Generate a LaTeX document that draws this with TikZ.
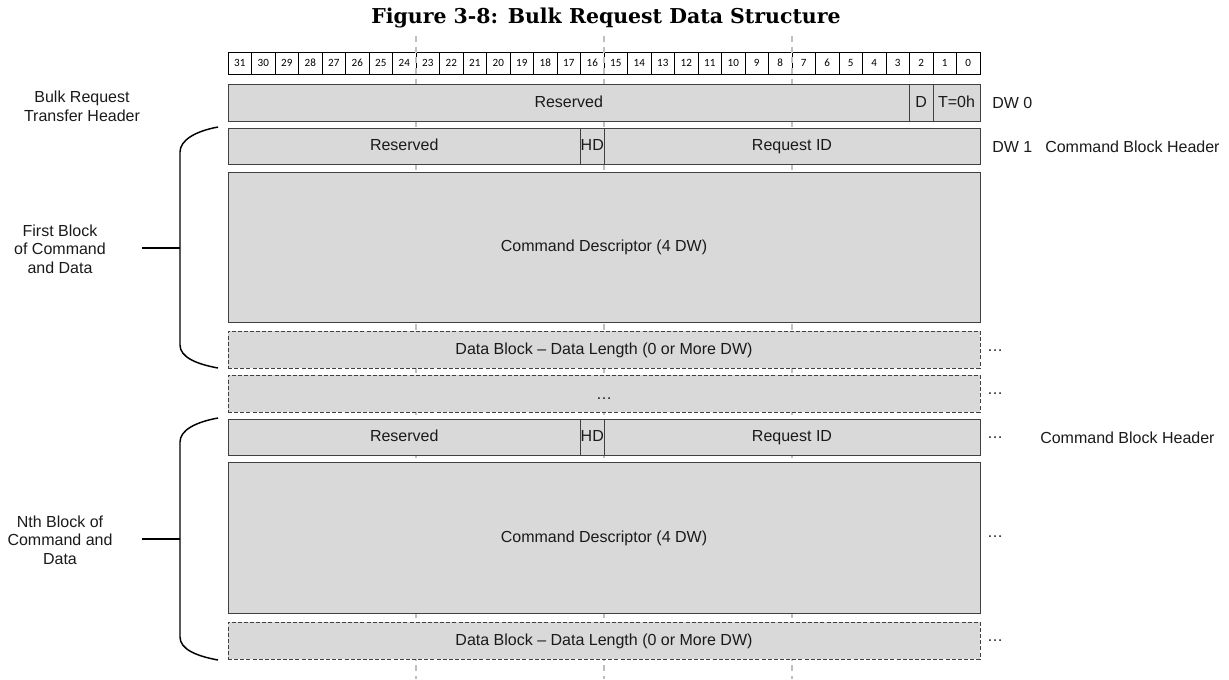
\documentclass[tikz,border=0pt]{standalone}
\usepackage{fontspec}
\setmainfont{Liberation Sans}
\newfontfamily\bitfont{Carlito}
\newfontfamily\titlefont{DejaVu Serif}
\definecolor{boxfill}{HTML}{D9D9D9}
\definecolor{boxline}{HTML}{404040}
\definecolor{guide}{HTML}{BFBFBF}
\definecolor{txt}{HTML}{1A1A1A}
\newcommand\fieldbox[7][field]{%
  \node[#1, minimum width={(#5-#3)*0.75pt}, minimum height={(#6-#4)*0.75pt}] (#2) at ({(#3+#5)/2},{(#4+#6)/2}) {#7};}
\begin{document}
\begin{tikzpicture}[x=0.75pt,y=-0.75pt,
  field/.style={draw=boxline, fill=boxfill, line width=0.75pt, inner sep=0pt, outer sep=0pt,
    font=\fontsize{12}{14}\selectfont, text=txt, text height=0.72em, text depth=0pt},
  optfield/.style={field, dash pattern=on 3pt off 1.6pt},
  bitcell/.style={draw=black, fill=white, line width=0.6pt, inner sep=0pt, outer sep=0pt,
    minimum width=17.625pt, minimum height=16.5pt, font=\bitfont\fontsize{8.3}{9}\selectfont},
  guideline/.style={draw=guide, line width=1.5pt, dash pattern=on 4.5pt off 3.5pt},
  lbl/.style={font=\fontsize{12}{14}\selectfont, align=center, inner sep=0pt, text=txt},
  brace/.style={draw=black, line width=1.1pt}]
\useasboundingbox (0,0) rectangle (1229,679);

% title
\node[inner sep=0pt] (title) at (606,18) {\resizebox{352pt}{!}{\titlefont\bfseries Figure 3-8: Bulk Request Data Structure}};

% bit numbers
\foreach \k in {0,...,31} {
  \pgfmathtruncatemacro\n{31-\k}
  \node[bitcell] (b\n) at ({239.75+23.5*\k},63) {\n};
}

% guide lines
\foreach \gx/\gn in {416/g1, 604/g2, 792/g3} {
  \coordinate (\gn t) at (\gx,36);
  \coordinate (\gn b) at (\gx,679);
  \draw[guideline] (\gn t) -- (\gn b);
}

% DW 0
\fieldbox{res0}{228}{84}{909.5}{121}{Reserved}
\fieldbox{dbit}{909.5}{84}{933}{121}{D}
\fieldbox{tbit}{933}{84}{980}{121}{T=0h}
% DW 1
\fieldbox{res1}{228}{128}{580.5}{164}{Reserved}
\fieldbox{hd1}{580.5}{128}{604}{164}{HD}
\fieldbox{rid1}{604}{128}{980}{164}{Request ID}
\fieldbox{cmd1}{228}{172}{980}{322}{Command Descriptor (4 DW)}
\fieldbox[optfield]{data1}{228}{331}{980}{368}{Data Block – Data Length (0 or More DW)}
\fieldbox[optfield,text height=1.6ex,text depth=0pt]{gap}{228}{375}{980}{412}{…}
% Nth block
\fieldbox{res2}{228}{419}{580.5}{455}{Reserved}
\fieldbox{hd2}{580.5}{419}{604}{455}{HD}
\fieldbox{rid2}{604}{419}{980}{455}{Request ID}
\fieldbox{cmd2}{228}{462}{980}{613}{Command Descriptor (4 DW)}
\fieldbox[optfield]{data2}{228}{622}{980}{659}{Data Block – Data Length (0 or More DW)}

% right labels
\node[lbl, anchor=west] (dw0) at (992,103) {DW 0};
\node[lbl, anchor=west] (dw1) at (992,147) {DW 1};
\node[lbl, anchor=west] (cbh1) at (1045,147) {Command Block Header};
\node[lbl, anchor=west] (cbh2) at (1040,438) {Command Block Header};
\node[lbl] (dots1) at (995,351) {…};
\node[lbl] (dots2) at (995,394) {…};
\node[lbl] (dots3) at (995,438) {…};
\node[lbl] (dots4) at (995,537) {…};
\node[lbl] (dots5) at (995,641) {…};

% left labels
\node[lbl] (bulk) at (82,106) {Bulk Request\\Transfer Header};
\node[lbl] (first) at (60,249) {First Block\\of Command\\and Data};
\node[lbl] (nth) at (60,540) {Nth Block of\\Command and\\Data};

% braces
\coordinate (br1t) at (218,127);
\coordinate (br1u) at (180,152);
\coordinate (br1l) at (180,345);
\coordinate (br1b) at (218,368);
\coordinate (br1m) at (180,248);
\coordinate (tk1) at (142,248);
\draw[brace] (br1t) .. controls (196,131) and (180,140) .. (br1u) -- (br1l) .. controls (180,357) and (196,364) .. (br1b);
\draw[brace] (tk1) -- (br1m);

\coordinate (br2t) at (218,418);
\coordinate (br2u) at (180,442);
\coordinate (br2l) at (180,637);
\coordinate (br2b) at (218,660);
\coordinate (br2m) at (180,539);
\coordinate (tk2) at (142,539);
\draw[brace] (br2t) .. controls (196,422) and (180,430) .. (br2u) -- (br2l) .. controls (180,649) and (196,656) .. (br2b);
\draw[brace] (tk2) -- (br2m);
\end{tikzpicture}
\end{document}
